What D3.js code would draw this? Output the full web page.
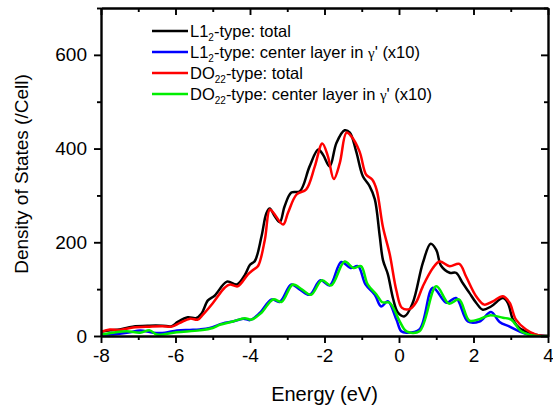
<!DOCTYPE html>
<html lang="en">
<head>
<meta charset="UTF-8">
<title>Density of States</title>
<style>
    body { margin: 0; background: #fff; }
    #chart { font-family: "Liberation Sans", Arial, sans-serif; }
    .axis path, .axis line { stroke: #000; stroke-width: 1.9; }
    .axis text { font-size: 19px; fill: #000; }
    .curve { fill: none; stroke-width: 2.5; stroke-linejoin: round; }
</style>
<script src="https://d3js.org/d3.v7.min.js"></script>
</head>
<body>
<div id="chart"></div>
<script>
// values: [energy (eV), DOS]
const l12Total = [[-8,9],[-7.75,12],[-7.5,14],[-7.15,20],[-6.7,22],[-6.35,22],[-6.1,21],[-5.94,30],[-5.67,40],[-5.45,38],[-5.3,48],[-5.13,76],[-4.95,86],[-4.62,116],[-4.35,110],[-4.14,130],[-4.0,152],[-3.87,160],[-3.69,213],[-3.56,262],[-3.47,272],[-3.34,256],[-3.2,243],[-3.07,277],[-2.89,306],[-2.66,309],[-2.4,362],[-2.17,398],[-2.04,387],[-1.86,362],[-1.68,412],[-1.46,439],[-1.32,434],[-1.15,394],[-0.97,341],[-0.79,320],[-0.65,292],[-0.52,215],[-0.43,162],[-0.3,132],[-0.16,80],[-0.03,50],[0.15,42],[0.37,71],[0.64,156],[0.85,197],[1.0,184],[1.13,150],[1.36,135],[1.53,135],[1.71,113],[1.89,92],[2.07,71],[2.25,56],[2.47,63],[2.79,81],[2.92,71],[3.06,35],[3.23,17],[3.5,7],[3.77,1],[4.0,0]];
const l12Center = [[-8,4],[-7.76,3],[-7.5,5],[-7.22,8],[-6.95,12],[-6.6,7],[-6.28,7],[-5.96,12],[-5.61,13],[-5.35,14],[-5.08,17],[-4.73,27],[-4.46,31],[-4.18,37],[-4.0,34],[-3.74,49],[-3.42,78],[-3.2,73],[-2.89,110],[-2.66,99],[-2.4,88],[-2.11,119],[-1.86,108],[-1.55,158],[-1.3,145],[-1.1,149],[-0.9,110],[-0.65,88],[-0.48,63],[-0.3,74],[-0.07,35],[0.06,10],[0.2,7],[0.55,14],[0.91,103],[1.27,71],[1.53,81],[1.85,31],[2.16,31],[2.47,51],[2.7,30],[2.97,20],[3.23,10],[3.58,1],[4.0,0]];
const do22Total = [[-8,9],[-7.76,14],[-7.5,13],[-7.14,18],[-6.7,20],[-6.35,21],[-6.1,20],[-5.88,28],[-5.61,37],[-5.4,35],[-5.27,45],[-5.0,70],[-4.68,103],[-4.54,110],[-4.33,106],[-4.06,131],[-3.9,142],[-3.78,150],[-3.6,206],[-3.47,270],[-3.38,264],[-3.11,238],[-2.98,263],[-2.75,302],[-2.49,313],[-2.26,362],[-2.06,411],[-1.91,384],[-1.75,335],[-1.59,369],[-1.41,434],[-1.28,426],[-1.06,394],[-0.88,344],[-0.72,334],[-0.6,312],[-0.43,232],[-0.25,175],[-0.07,97],[0.08,60],[0.3,58],[0.46,72],[0.64,106],[0.91,145],[1.09,159],[1.36,149],[1.62,154],[1.8,127],[2.07,85],[2.29,67],[2.52,74],[2.79,85],[2.97,71],[3.14,35],[3.41,14],[3.68,3],[4.0,0]];
const do22Center = [[-8,3],[-7.68,7],[-7.31,10],[-6.95,7],[-6.69,12],[-6.5,3],[-5.97,8],[-5.35,12],[-5.0,17],[-4.81,24],[-4.46,31],[-4.14,38],[-3.96,35],[-3.7,49],[-3.38,78],[-3.15,73],[-2.85,110],[-2.6,99],[-2.36,88],[-2.07,119],[-1.82,108],[-1.46,159],[-1.22,145],[-1.02,149],[-0.84,110],[-0.6,88],[-0.45,72],[-0.25,71],[0.02,31],[0.2,10],[0.55,10],[1.0,106],[1.34,69],[1.61,78],[1.89,33],[2.16,36],[2.43,44],[2.79,39],[3.01,35],[3.28,10],[3.58,1],[4.0,0]];

const xTicks = [-8, -6, -4, -2, 0, 2, 4];
const xMinor = [-7, -5, -3, -1, 1, 3];
const yTicks = [0, 200, 400, 600];
const yMinor = [100, 300, 500, 700];

const series = [
    {data: l12Total,   color: "#000000", main: "L1", sub: "2",  rest: "-type: total", gamma: false},
    {data: l12Center,  color: "#0000ff", main: "L1", sub: "2",  rest: "-type: center layer in ", gamma: true},
    {data: do22Total,  color: "#ff0000", main: "DO", sub: "22", rest: "-type: total", gamma: false},
    {data: do22Center, color: "#00ee00", main: "DO", sub: "22", rest: "-type: center layer in ", gamma: true}
];

const margin = {top: 8, right: 5, bottom: 75, left: 101};
const width = 553 - margin.left - margin.right;
const height = 411 - margin.top - margin.bottom;

const svg = d3.select("#chart")
    .append("svg")
    .attr("width", 553)
    .attr("height", 411)
    .append("g")
    .attr("transform", "translate(" + margin.left + "," + margin.top + ")");

const x = d3.scaleLinear().domain([-8, 4]).range([0, width]);
const y = d3.scaleLinear().domain([0, 700]).range([height, 0]);

const line = d3.line()
    .x(d => x(d[0]))
    .y(d => y(d[1]))
    .curve(d3.curveCatmullRom.alpha(0.5));

// curves, clipped to the plot
svg.append("clipPath").attr("id", "clip")
    .append("rect").attr("width", width).attr("height", height);

svg.selectAll(".curve")
    .data(series)
    .enter().append("path")
    .attr("class", "curve")
    .attr("clip-path", "url(#clip)")
    .attr("stroke", d => d.color)
    .attr("d", d => line(d.data));

// axes: major + minor, outward on bottom/left, inward on top/right
function addAxis(axis, tr, cls) {
    return svg.append("g").attr("class", "axis " + cls).attr("transform", tr).call(axis);
}
addAxis(d3.axisBottom(x).tickValues(xTicks).tickSize(7).tickSizeOuter(0).tickPadding(6).tickFormat(d => String(d)),
    "translate(0," + height + ")", "xb");
addAxis(d3.axisBottom(x).tickValues(xMinor).tickSize(4).tickSizeOuter(0).tickFormat(""),
    "translate(0," + height + ")", "xbm");
addAxis(d3.axisTop(x).tickValues(xTicks).tickSize(-7).tickSizeOuter(0).tickFormat(""), "translate(0,0)", "xt");
addAxis(d3.axisTop(x).tickValues(xMinor).tickSize(-4).tickSizeOuter(0).tickFormat(""), "translate(0,0)", "xtm");
addAxis(d3.axisLeft(y).tickValues(yTicks).tickSize(7).tickSizeOuter(0).tickPadding(7), "translate(0,0)", "yl");
addAxis(d3.axisLeft(y).tickValues(yMinor).tickSize(4).tickSizeOuter(0).tickFormat(""), "translate(0,0)", "ylm");
addAxis(d3.axisRight(y).tickValues(yTicks).tickSize(-7).tickSizeOuter(0).tickFormat(""), "translate(" + width + ",0)", "yr");
addAxis(d3.axisRight(y).tickValues(yMinor).tickSize(-4).tickSizeOuter(0).tickFormat(""), "translate(" + width + ",0)", "yrm");

// axis titles
svg.append("text")
    .attr("x", width / 2)
    .attr("y", height + 65)
    .attr("text-anchor", "middle")
    .style("font-size", "20px")
    .text("Energy (eV)");

svg.append("text")
    .attr("transform", "translate(" + (28 - margin.left) + "," + (height / 2 + 2) + ") rotate(-90)")
    .attr("text-anchor", "middle")
    .style("font-size", "19px")
    .text("Density of States (/Cell)");

// legend
const legend = svg.append("g").attr("transform", "translate(" + (152 - margin.left) + "," + (31 - margin.top) + ")");
series.forEach((s, i) => {
    const row = legend.append("g").attr("transform", "translate(0," + (i * 21) + ")");
    row.append("line")
        .attr("x1", 0).attr("x2", 36).attr("y1", 0).attr("y2", 0)
        .attr("stroke", s.color).attr("stroke-width", 2.5);
    const t = row.append("text").attr("x", 38).attr("y", 6).style("font-size", "16.5px");
    t.append("tspan").text(s.main);
    t.append("tspan").attr("dy", 4).style("font-size", "10px").text(s.sub);
    t.append("tspan").attr("dy", -4).text(s.rest);
    if (s.gamma) {
        t.append("tspan").style("font-family", "'Liberation Serif', serif").style("font-size", "15px").text("\u03b3");
        t.append("tspan").text("' (x10)");
    }
});
</script>
</body>
</html>
